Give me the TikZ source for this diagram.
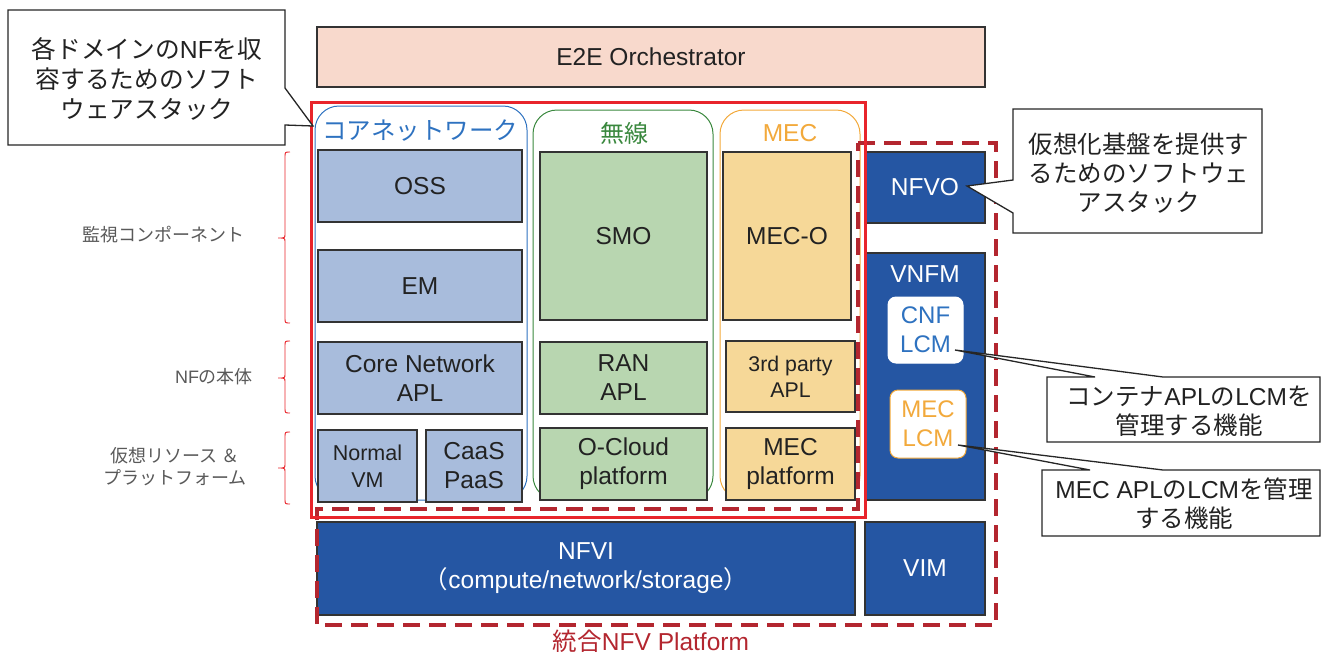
\documentclass[tikz,border=0pt]{standalone}
\usepackage{fontspec}
\setmainfont{Liberation Sans}
\newfontfamily\jp{Noto Sans CJK JP}
\usetikzlibrary{calc}

\definecolor{peach}{HTML}{F8D9CC}
\definecolor{cnfill}{HTML}{A8BCDC}
\definecolor{ranfill}{HTML}{B8D6B0}
\definecolor{mecfill}{HTML}{F6D898}
\definecolor{dkblue}{HTML}{2556A3}
\definecolor{cnline}{HTML}{2E72C0}
\definecolor{ranline}{HTML}{3A883E}
\definecolor{mecline}{HTML}{F2A93B}
\definecolor{redline}{HTML}{E8242B}
\definecolor{dkred}{HTML}{B3262F}
\definecolor{graytxt}{HTML}{595959}
\definecolor{boxtxt}{HTML}{222222}

\newcommand\fsz[2]{\fontsize{#1}{#2}\selectfont}
% block by corner coordinates: style, name, x1, y1, x2, y2, text
\newcommand\blk[7]{\node[#1, minimum width={(#5-#3)*1pt}, minimum height={(#6-#4)*1pt}, anchor=north west] (#2) at (#3,#4) {#7};}
% left-facing curly brace: top y, middle y, bottom y
\newcommand\sbrace[3]{\draw[sidebrace] (290,#1) .. controls (285,#1) .. (285,{#1+5}) -- (285,{#2-4}) .. controls (285,#2) .. (278,#2) .. controls (285,#2) .. (285,{#2+4}) -- (285,{#3-5}) .. controls (285,#3) .. (290,#3);}

\tikzset{
  base/.style={inner sep=0pt, outer sep=0pt, align=center, line width=1.1pt, draw=black!80, text=boxtxt, font=\fsz{24.5}{29}},
  cnbox/.style={base, fill=cnfill},
  ranbox/.style={base, fill=ranfill},
  mecbox/.style={base, fill=mecfill},
  nfvbox/.style={base, fill=dkblue, text=white},
  orchbox/.style={base, fill=peach},
  column/.style={rounded corners=24pt, line width=1pt},
  lcmbox/.style={inner sep=0pt, outer sep=0pt, align=center, rounded corners=8pt, fill=white, line width=1pt, font=\fsz{24}{29}},
  callout/.style={draw=black!85, fill=white, line width=1.3pt},
  calltext/.style={align=center, text=boxtxt, inner sep=0pt},
  sidelabel/.style={align=center, text=graytxt, inner sep=0pt, font=\fsz{18}{22}\jp},
  sidebrace/.style={draw=redline, line width=0.9pt},
}

\begin{document}
\begin{tikzpicture}[x=1pt, y=-1pt]
\useasboundingbox (0,0) rectangle (1322,654);

% top orchestrator
\blk{orchbox}{orch}{317}{27}{985}{87}{E2E Orchestrator}

% domain columns
\draw[column, draw=cnline] (315,106) rectangle (527,500);
\draw[column, draw=ranline] (533,110) rectangle (713,500);
\draw[column, draw=mecline] (720,110) rectangle (860,500);
\node[text=cnline, font=\fsz{24.5}{29}\jp, inner sep=0pt] (cnlabel) at (420,131) {コアネットワーク};
\node[text=ranline, font=\fsz{24}{29}\jp, inner sep=0pt] (ranlabel) at (624,133) {無線};
\node[text=mecline, font=\fsz{24.5}{29}, inner sep=0pt] (meclabel) at (790,133) {MEC};

% core network stack
\blk{cnbox}{oss}{318}{150}{522}{222}{OSS}
\blk{cnbox}{em}{318}{250}{522}{322}{EM}
\blk{cnbox}{cnapl}{318}{342}{522}{414}{Core Network\\APL}
\blk{cnbox, font=\fsz{21.5}{27}}{nvm}{318}{430}{417}{502}{Normal\\VM}
\blk{cnbox}{caas}{426}{430}{522}{502}{CaaS\\PaaS}

% radio stack
\blk{ranbox}{smo}{540}{152}{707}{320}{SMO}
\blk{ranbox}{ranapl}{540}{342}{707}{414}{RAN\\APL}
\blk{ranbox}{ocloud}{540}{428}{707}{500}{O-Cloud\\platform}

% MEC stack
\blk{mecbox}{meco}{723}{152}{851}{320}{MEC-O}
\blk{mecbox, font=\fsz{21.3}{26}}{thirdapl}{726}{341}{855}{412}{3rd party\\APL}
\blk{mecbox}{mecplat}{726}{428}{855}{500}{MEC\\platform}

% NFV management and infrastructure
\blk{nfvbox}{nfvo}{865}{152}{985}{223}{NFVO}
\blk{nfvbox}{vnfm}{865}{253}{985}{500}{}
\node[text=white, font=\fsz{24.5}{29}, inner sep=0pt] (vnfmlabel) at (925,274) {VNFM};
\blk{lcmbox, draw=white, text=cnline}{cnflcm}{888}{297}{963}{363}{CNF\\LCM}
\blk{lcmbox, draw=mecline, text=mecline}{meclcm}{890}{390}{966}{458}{MEC\\LCM}
\blk{nfvbox}{nfvi}{317}{522}{855}{615}{NFVI\\{\jp （}compute/network/storage{\jp ）}}
\blk{nfvbox}{vim}{865}{522}{985}{615}{VIM}

% integrated NFV platform outline
\draw[draw=dkred, line width=4pt, dash pattern=on 17pt off 9pt]
  (858,143) -- (996,143) -- (996,625) -- (317,625) -- (317,509) -- (858,509) -- cycle;
\node[text=dkred, font=\fsz{24.5}{29}, inner sep=0pt] (platlabel) at (651,641) {{\jp 統合}NFV Platform};

% software stack for network functions
\draw[draw=redline, line width=3pt] (311,102) rectangle (865,517);

% side braces and labels
\sbrace{152}{238}{323}
\sbrace{341}{378}{413}
\sbrace{432}{468}{504}
\node[sidelabel] (lblmon) at (163,235) {監視コンポーネント};
\node[sidelabel] (lblnf) at (214,377) {{\fontspec{Liberation Sans}NF}の本体};
\node[sidelabel] (lblres) at (175,467) {仮想リソース ＆\\プラットフォーム};

% callouts
\draw[callout] (8,10) -- (285,10) -- (285,88) -- (313,126) -- (285,125) -- (285,145) -- (8,145) -- cycle;
\node[calltext, font=\fsz{24.7}{30}\jp] (c1) at (147,79) {各ドメインの{\fontspec{Liberation Sans}NF}を収\\容するためのソフト\\ウェアスタック};

\coordinate (nfvotip) at (967,186);
\draw[callout] (1013,109) -- (1262,109) -- (1262,233) -- (1013,233) -- (1013,213) -- (nfvotip) -- (1013,180) -- cycle;
\node[calltext, font=\fsz{24.5}{29}\jp] (c2) at (1139,173) {仮想化基盤を提供す\\るためのソフトウェ\\アスタック};

\coordinate (cnftip) at (955,350);
\draw[callout] (1047,377) -- (1095,377) -- (cnftip) -- (1163,377) -- (1320,377) -- (1320,442) -- (1047,442) -- cycle;
\node[calltext, font=\fsz{24.5}{29}\jp] (c3) at (1189,411) {コンテナ{\fontspec{Liberation Sans}APL}の{\fontspec{Liberation Sans}LCM}を\\管理する機能};

\coordinate (mectip) at (958,445);
\draw[callout] (1042,470) -- (1090,470) -- (mectip) -- (1163,470) -- (1320,470) -- (1320,536) -- (1042,536) -- cycle;
\node[calltext, font=\fsz{24.5}{29}\jp] (c4) at (1184,504) {{\fontspec{Liberation Sans}MEC APL}の{\fontspec{Liberation Sans}LCM}を管理\\する機能};
\end{tikzpicture}
\end{document}
